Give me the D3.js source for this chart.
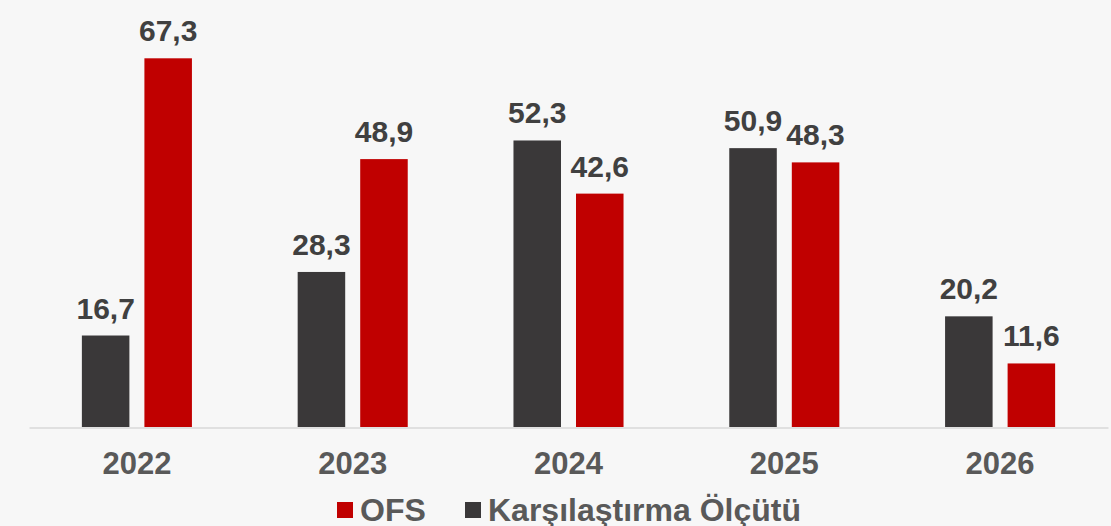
<!DOCTYPE html>
<html>
<head>
<meta charset="utf-8">
<script src="https://cdn.jsdelivr.net/npm/d3@7"></script>
<style>
  html, body { margin: 0; padding: 0; background: #f7f7f7; }
  svg { display: block; font-family: "Liberation Sans", Arial, sans-serif; font-weight: bold; }
</style>
</head>
<body>
<div id="chart"></div>
<script>
// data
const years = ["2022", "2023", "2024", "2025", "2026"];
const benchmark = [16.7, 28.3, 52.3, 50.9, 20.2];
const ofs = [67.3, 48.9, 42.6, 48.3, 11.6];
const seriesKeys = ["bench", "ofs"];
const legendItems = [
    { key: "ofs", label: "OFS" },
    { key: "bench", label: "Karşılaştırma Ölçütü" }
];

const colors = { bench: "#3a3839", ofs: "#c00000" };

const width = 1111, height = 526;
const baseY = 427;

const svg = d3.select("#chart")
    .append("svg")
    .attr("width", width)
    .attr("height", height);

svg.append("rect")
    .attr("width", width)
    .attr("height", height)
    .attr("fill", "#f7f7f7");

const x0 = d3.scaleBand()
    .domain(years)
    .range([29, 1108])
    .paddingInner(0.49)
    .paddingOuter(0.245);

const x1 = d3.scaleBand()
    .domain(seriesKeys)
    .range([0, x0.bandwidth()])
    .paddingInner(0.24);

const y = d3.scaleLinear()
    .domain([0, 67.3])
    .range([baseY, 58.3]);

const rows = years.map((yr, i) => ({
    year: yr,
    values: [
        { key: "bench", value: benchmark[i] },
        { key: "ofs", value: ofs[i] }
    ]
}));

const fmt = v => d3.format(".1f")(v).replace(".", ",");

const groups = svg.selectAll(".group")
    .data(rows)
    .enter()
    .append("g")
    .attr("class", "group")
    .attr("transform", d => "translate(" + x0(d.year) + ",0)");

groups.selectAll("rect")
    .data(d => d.values)
    .enter()
    .append("rect")
    .attr("x", d => x1(d.key))
    .attr("y", d => y(d.value))
    .attr("width", x1.bandwidth())
    .attr("height", d => y(0) - y(d.value))
    .attr("fill", d => colors[d.key]);

groups.selectAll("text.value")
    .data(d => d.values)
    .enter()
    .append("text")
    .attr("class", "value")
    .attr("x", d => x1(d.key) + x1.bandwidth() / 2)
    .attr("y", d => y(d.value) - 17)
    .attr("text-anchor", "middle")
    .attr("font-size", 30)
    .attr("fill", "#404040")
    .text(d => fmt(d.value));

// x axis
const axis = svg.append("g")
    .attr("transform", "translate(0," + (baseY + 0.5) + ")")
    .call(d3.axisBottom(x0).tickSize(0).tickPadding(24));

axis.select(".domain")
    .attr("stroke", "#d9d9d9")
    .attr("stroke-width", 1.5);

axis.selectAll(".tick text")
    .attr("font-family", "Liberation Sans, Arial, sans-serif")
    .attr("font-weight", "bold")
    .attr("font-size", 31)
    .attr("fill", "#595959")
    .attr("dy", "0.71em");

// legend
const legend = svg.append("g");
const legendX = [337, 465];
legendItems.forEach((item, i) => {
    const g = legend.append("g")
        .attr("transform", "translate(" + legendX[i] + ",502)");
    g.append("rect")
        .attr("width", 16)
        .attr("height", 16)
        .attr("fill", colors[item.key]);
    g.append("text")
        .attr("x", 23)
        .attr("y", 18.5)
        .attr("font-size", 32)
        .attr("fill", "#595959")
        .text(item.label);
});
</script>
</body>
</html>
